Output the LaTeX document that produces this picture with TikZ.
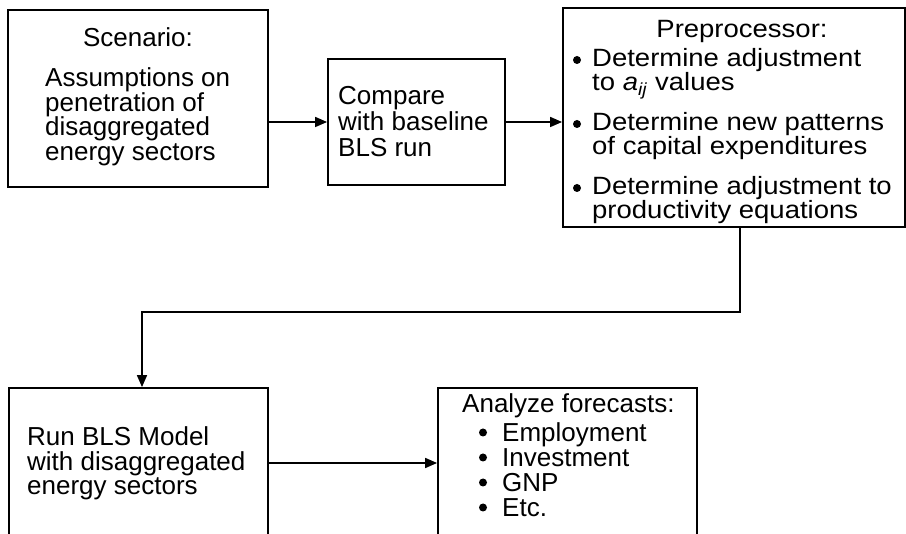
\documentclass[tikz,border=0pt]{standalone}
\usepackage{fontspec}
\setmainfont{Liberation Sans}
\newfontfamily\prefont[FakeStretch=1.1]{Liberation Sans}
\usetikzlibrary{arrows.meta}
\begin{document}
\begin{tikzpicture}[x=1pt,y=-1pt,
  box/.style={draw, line width=1.8pt, rectangle, inner sep=0pt},
  arr/.style={line width=1.6pt, -{Triangle[length=12pt,width=10pt]}},
  txt/.style={inner sep=0pt, align=left, font=\fontsize{26}{24.4}\selectfont},
  ptxt/.style={inner sep=0pt, align=left, font=\prefont\fontsize{25}{22}\selectfont},
  dot/.style={circle, fill, inner sep=0pt, minimum size=8pt}]
\clip (0,0) rectangle (906,534);
% boxes
\node[box, minimum width=260pt, minimum height=177pt] (scen) at (138,98.5) {};
\node[box, minimum width=177pt, minimum height=126pt] (comp) at (416.5,122) {};
\node[box, minimum width=342pt, minimum height=219pt] (pre) at (734,117.5) {};
\node[box, minimum width=259pt, minimum height=150pt] (run) at (138.5,463) {};
\node[box, minimum width=259pt, minimum height=150pt] (ana) at (567.5,463) {};
% scenario text (base anchor = last line)
\node[txt, anchor=base] (scenT) at (138,47) {Scenario:};
\node[txt, anchor=base west] (scenB) at (45,160.2) {Assumptions on\\penetration of\\disaggregated\\energy sectors};
% compare text
\node[txt, anchor=base west, font=\fontsize{26}{26}\selectfont] (compB) at (338,157) {Compare\\with baseline\\BLS run};
% preprocessor text
\node[ptxt, anchor=base] (preT) at (742,38) {Preprocessor:};
\node[dot] (pb1) at (577,60) {};
\node[dot] (pb2) at (577,124) {};
\node[dot] (pb3) at (577,188) {};
\node[ptxt, anchor=base west] (p1) at (592,91) {Determine adjustment\\to \textit{a}\textsubscript{\textit{ij}} values};
\node[ptxt, anchor=base west] (p2) at (592,155) {Determine new patterns\\of capital expenditures};
\node[ptxt, anchor=base west] (p3) at (592,219) {Determine adjustment to\\productivity equations};
% run text
\node[txt, anchor=base west] (runB) at (27,494.8) {Run BLS Model\\with disaggregated\\energy sectors};
% analyze text
\node[txt, anchor=base west] (anaT) at (462,413) {Analyze forecasts:};
\foreach \i in {1,2,3,4}
  \node[dot] (ab\i) at (483,{432.5+25*(\i-1)}) {};
\node[txt, anchor=base west, font=\fontsize{26}{25}\selectfont] (anaB) at (502,516.5) {Employment\\Investment\\GNP\\Etc.};
% connectors
\coordinate (fbA) at (740,312);
\coordinate (fbB) at (142,312);
\draw[arr] (scen.east |- comp.west) -- (comp.west);
\draw[arr] (comp.east) -- (comp.east -| pre.west);
\draw[arr] (pre.south -| fbA) -- (fbA) -- (fbB) -- (run.north -| fbB);
\draw[arr] (run.east) -- (ana.west);
\end{tikzpicture}
\end{document}
